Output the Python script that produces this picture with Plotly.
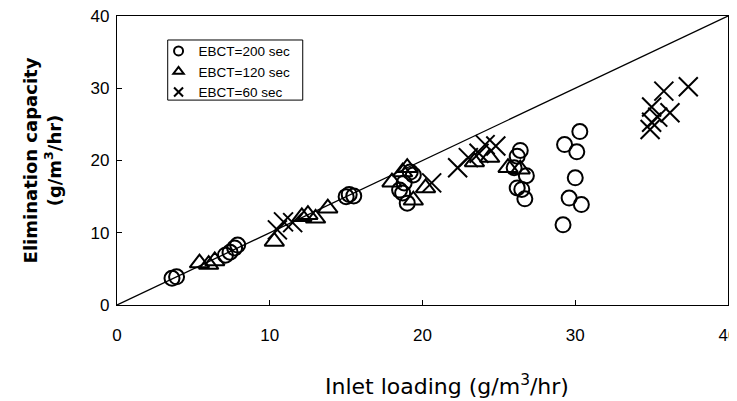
import plotly.graph_objects as go

# EBCT = 200 sec (circles)
x200 = [3.6, 3.9, 7.1, 7.4, 7.7, 7.9, 15.0, 15.2, 15.5,
        19.2, 18.8, 18.5, 18.7, 19.0, 19.4,
        26.4, 26.2, 26.0, 26.8, 26.2, 26.5, 26.7,
        30.3, 29.3, 30.1, 30.0, 29.6, 30.4, 29.2]
y200 = [3.7, 3.9, 6.9, 7.3, 7.9, 8.3, 15.0, 15.3, 15.1,
        18.4, 16.9, 15.9, 15.5, 14.1, 18.0,
        21.4, 20.6, 19.0, 17.9, 16.2, 16.0, 14.7,
        24.0, 22.2, 21.2, 17.6, 14.8, 13.9, 11.1]

# EBCT = 120 sec (triangles)
x120 = [5.4, 6.0, 6.4, 10.3, 12.1, 12.5, 13.0, 13.8,
        18.0, 18.7, 19.0, 19.4, 20.2, 23.4, 24.4, 25.6, 26.4]
y120 = [5.8, 5.6, 6.1, 8.8, 12.2, 12.5, 12.0, 13.4,
        17.0, 18.4, 19.0, 14.5, 16.2, 19.8, 20.4, 19.0, 18.8]

# EBCT = 60 sec (crosses)
x60 = [10.5, 10.9, 11.5, 20.6, 22.3, 23.0, 23.7, 24.1, 24.8,
       34.9, 35.0, 35.4, 35.0, 36.2, 35.8, 37.4]
y60 = [10.4, 11.5, 11.4, 16.9, 19.0, 20.4, 21.0, 22.2, 22.0,
       24.3, 25.3, 26.0, 27.4, 26.6, 29.6, 30.2]

axis_range = [0, 40]
tick_vals = [0, 10, 20, 30, 40]
labels = ["EBCT=200 sec", "EBCT=120 sec", "EBCT=60 sec"]

fig = go.Figure()

fig.add_trace(go.Scatter(x=axis_range, y=axis_range, mode="lines",
                         line=dict(color="black", width=1.3), showlegend=False,
                         hoverinfo="skip", cliponaxis=False))

fig.add_trace(go.Scatter(x=x200, y=y200, mode="markers", showlegend=False,
                         marker=dict(symbol="circle-open", size=15, color="black",
                                     line=dict(width=2, color="black"))))
fig.add_trace(go.Scatter(x=x120, y=y120, mode="markers", showlegend=False,
                         marker=dict(symbol="triangle-up-open", size=17, color="black",
                                     line=dict(width=2, color="black"))))
fig.add_trace(go.Scatter(x=x60, y=y60, mode="markers", showlegend=False,
                         marker=dict(symbol="x-thin-open", size=19, color="black",
                                     line=dict(width=2, color="black"))))

# legend entries
for lab, sym in zip(labels, ["circle-open", "triangle-up-open", "x-thin-open"]):
    fig.add_trace(go.Scatter(x=[None], y=[None], mode="markers", name=lab,
                             marker=dict(symbol=sym, size=9, color="black",
                                         line=dict(width=2, color="black"))))

axis_common = dict(range=axis_range, tickvals=tick_vals, showgrid=False, zeroline=False,
                   showline=True, linecolor="black", linewidth=1.3, mirror=True,
                   ticks="inside", ticklen=5, tickcolor="black", automargin=False,
                   ticklabeloverflow="allow",
                   tickfont=dict(family="Liberation Sans", size=17, color="black"))

fig.update_layout(
    width=737, height=401,
    margin=dict(l=109, r=17, t=8, b=104),
    paper_bgcolor="white", plot_bgcolor="white",
    font=dict(family="Liberation Sans", color="black"),
    xaxis=dict(**axis_common),
    yaxis=dict(**axis_common,
               title=dict(text="<b>Elimination capacity<br>(g/m<sup>3</sup>/hr)</b>",
                          font=dict(size=18, family="DejaVu Sans"), standoff=24)),
    legend=dict(x=0.068, y=0.932, xanchor="left", yanchor="top",
                borderwidth=0, bgcolor="rgba(0,0,0,0)",
                font=dict(size=13.5, family="Liberation Sans"),
                tracegroupgap=0, itemwidth=30),
    shapes=[dict(type="rect", xref="paper", yref="paper",
                 x0=0.083, x1=0.304, y0=0.709, y1=0.917,
                 line=dict(color="black", width=1), layer="below")],
    annotations=[dict(text="Inlet loading (g/m<sup>3</sup>/hr)", xref="paper", yref="paper",
                      x=0.54, y=-0.277, xanchor="center", yanchor="middle", showarrow=False,
                      font=dict(size=22, family="DejaVu Sans", color="black"))],
)
fig.update_xaxes(ticklabelstandoff=14)
fig.update_yaxes(ticklabelstandoff=3)

fig.write_html("out.html")
